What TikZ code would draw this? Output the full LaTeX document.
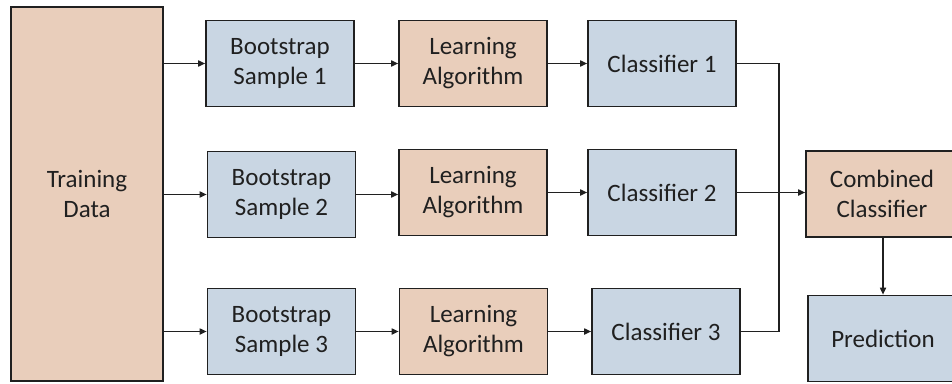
\documentclass[tikz,border=0pt]{standalone}
\usepackage{fontspec}
\setmainfont{Carlito}
\usetikzlibrary{arrows.meta}
\definecolor{sampleblue}{RGB}{201,214,227}
\definecolor{learntan}{RGB}{233,206,187}
\definecolor{inkgray}{RGB}{32,32,32}
\begin{document}
\begin{tikzpicture}[x=1pt,y=-1pt,
    blk/.style={draw=inkgray,line width=1.6pt,rectangle,minimum width=148pt,minimum height=86pt,inner sep=0pt,align=center,text=inkgray,font=\fontsize{25}{30}\selectfont},
    bluebox/.style={blk,fill=sampleblue},
    tanbox/.style={blk,fill=learntan},
    arr/.style={draw=inkgray,line width=1.6pt,-{Triangle[length=7pt,width=6pt]}}]
        %% Frame
        \useasboundingbox (0,0) rectangle (952,383);
        \clip (0,0) rectangle (952,383);
        %% Training data
        \node[tanbox,minimum width=152pt,minimum height=374pt] (T) at (87,194) {Training\\Data};
        %% Bootstrap samples
        \node[bluebox] (B1) at (280,63.5) {Bootstrap\\Sample 1};
        \node[bluebox] (B2) at (281.5,194.5) {Bootstrap\\Sample 2};
        \node[bluebox] (B3) at (281.5,331.5) {Bootstrap\\Sample 3};
        %% Learning algorithms
        \node[tanbox] (L1) at (473,63.5) {Learning\\Algorithm};
        \node[tanbox] (L2) at (473,192.5) {Learning\\Algorithm};
        \node[tanbox] (L3) at (473.5,331.5) {Learning\\Algorithm};
        %% Classifiers
        \node[bluebox] (C1) at (662,63.5) {Classifier 1};
        \node[bluebox] (C2) at (662,192.5) {Classifier 2};
        \node[bluebox] (C3) at (666,331.5) {Classifier 3};
        %% Combination and prediction
        \node[tanbox,minimum width=152pt] (CC) at (882,194) {Combined\\Classifier};
        \node[bluebox,minimum width=150pt] (P) at (883,338.5) {Prediction};
        %% Arrows
        \draw[arr] (T.east |- B1.west) -- (B1.west);
        \draw[arr] (T.east |- B2.west) -- (B2.west);
        \draw[arr] (T.east |- B3.west) -- (B3.west);
        \draw[arr] (B1.east) -- (B1.east -| L1.west);
        \draw[arr] (B2.east) -- (B2.east -| L2.west);
        \draw[arr] (B3.east) -- (B3.east -| L3.west);
        \draw[arr] (L1.east) -- (L1.east -| C1.west);
        \draw[arr] (L2.east) -- (L2.east -| C2.west);
        \draw[arr] (L3.east) -- (L3.east -| C3.west);
        %% Merge into combined classifier
        \coordinate (J) at (779,0);
        \draw[draw=inkgray,line width=1.6pt] (C1.east) -| (J |- C3.east) -- (C3.east);
        \draw[arr] (C2.east) -- (C2.east -| CC.west);
        \draw[arr] (CC.south -| P.north) -- (P.north);
\end{tikzpicture}
\end{document}
